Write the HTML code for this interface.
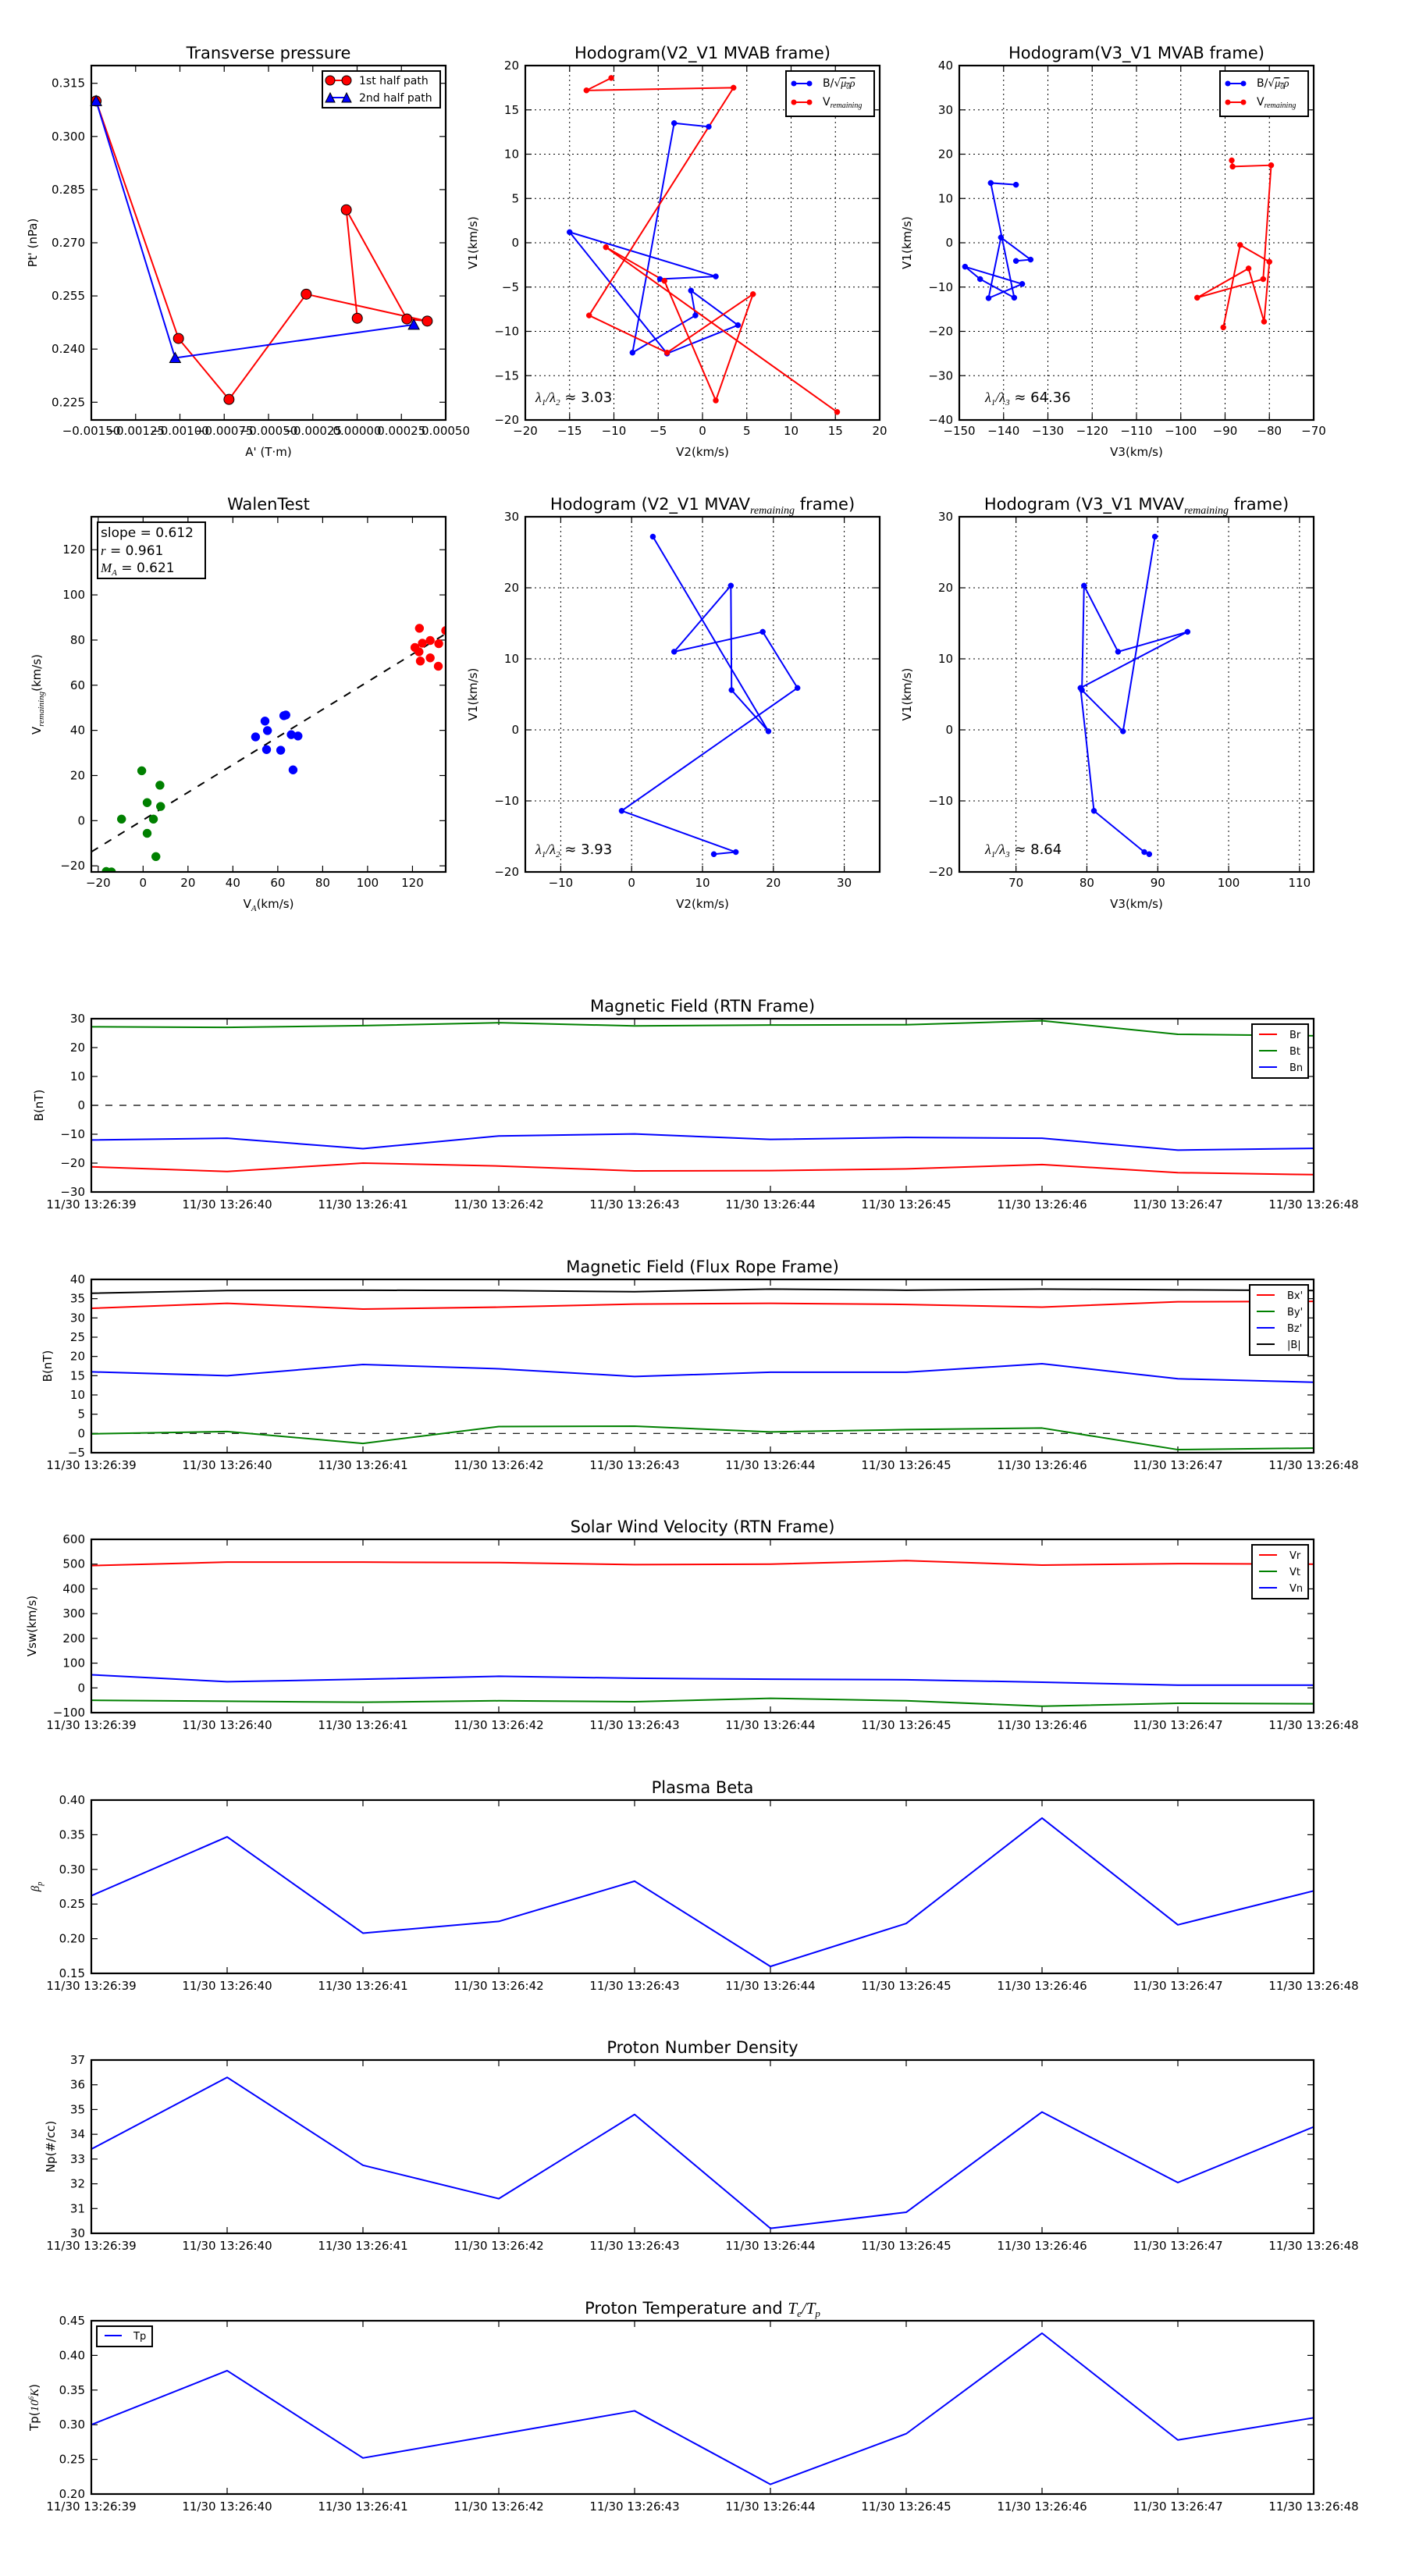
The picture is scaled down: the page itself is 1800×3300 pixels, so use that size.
<!DOCTYPE html>
<html><head><meta charset="utf-8">
<style>
html,body{margin:0;padding:0;background:#fff;}
svg{display:block;font-family:"DejaVu Sans","Liberation Sans",sans-serif;}
.m{font-family:"Liberation Serif","DejaVu Serif",serif;font-style:italic;}
</style></head>
<body>
<svg id="fig" xmlns="http://www.w3.org/2000/svg" width="1800" height="3300" viewBox="0 0 1800 3300">
<rect x="0" y="0" width="1800" height="3300" fill="#fff"/>
</svg>
<script>
// ---------------- DATA ----------------
const tpA1=[-0.001473,-0.001008,-0.000723,-0.000287,0.000396,0.000281,-0.000061,0.000001];
const tpP1=[0.3100,0.2430,0.2258,0.2555,0.2479,0.2485,0.2793,0.2487];
const tpA2=[-0.001473,-0.001027,0.000320];
const tpP2=[0.3100,0.2375,0.2469];
const tpXTicks=[-0.0015,-0.00125,-0.001,-0.00075,-0.0005,-0.00025,0,0.00025,0.0005];
const tpYTicks=[0.225,0.240,0.255,0.270,0.285,0.300,0.315];

const h2BV2=[0.7,-3.2,-7.9,-0.8,-1.3,4.0,-4.0,-15.0,1.5,-4.8];
const h2BV1=[13.1,13.5,-12.4,-8.2,-5.4,-9.3,-12.5,1.2,-3.8,-4.1];
const h2VV2=[-10.3,-13.1,3.5,-12.8,-4.0,5.7,1.5,-4.3,-10.9,15.2];
const h2VV1=[18.6,17.2,17.5,-8.2,-12.4,-5.8,-17.8,-4.3,-0.5,-19.1];
const h3BV3=[-137.2,-142.9,-137.6,-145.3,-148.7,-135.8,-143.4,-140.6,-133.9,-137.2];
const h3VV3=[-88.5,-88.3,-79.6,-81.4,-96.3,-84.7,-81.2,-80.0,-86.6,-90.4];
const h2Ratio='3.03';
const h3Ratio='64.36';

const mvV1=[27.2,-0.2,5.6,20.3,11.0,13.8,5.9,-11.4,-17.2,-17.5];
const mvV2=[3.0,19.3,14.1,14.0,6.0,18.5,23.4,-1.4,14.7,11.6];
const mvV3=[89.6,85.1,79.3,79.6,84.4,94.2,79.1,81.0,88.1,88.8];
const mv2Ratio='3.93';
const mv3Ratio='8.64';

const walenGreenX=[-16.4,-14.1,-0.6,7.5,1.8,7.8,-9.6,4.6,1.8,5.7];
const walenGreenY=[-22.5,-22.7,22.1,15.7,8.0,6.3,0.7,0.7,-5.6,-15.9];
const walenBlueX=[50.1,54.3,55.4,55.0,61.3,62.7,63.6,66.0,69.0,66.8];
const walenBlueY=[37.1,44.1,39.9,31.5,31.2,46.5,46.8,38.1,37.5,22.5];
const walenRedX=[123.1,121.1,122.9,124.4,127.9,131.7,134.8,123.5,127.9,131.5];
const walenRedY=[85.2,76.7,74.8,78.6,79.8,78.4,84.2,70.7,72.1,68.4];
const walenFit=[0.612,0.3];
const walenStats=['0.612','0.961','0.621'];

const times=['11/30 13:26:39','11/30 13:26:40','11/30 13:26:41','11/30 13:26:42','11/30 13:26:43','11/30 13:26:44','11/30 13:26:45','11/30 13:26:46','11/30 13:26:47','11/30 13:26:48'];
const Br=[-21.3,-22.9,-20.0,-21.0,-22.7,-22.6,-22.0,-20.5,-23.3,-24.0];
const Bt=[27.2,27.0,27.6,28.6,27.5,27.8,27.9,29.3,24.6,24.1];
const Bn=[-12.0,-11.4,-15.0,-10.6,-9.9,-11.8,-11.1,-11.4,-15.5,-14.9];
const Bx=[32.5,33.8,32.3,32.8,33.6,33.8,33.5,32.8,34.2,34.3];
const By=[-0.1,0.5,-2.6,1.8,1.9,0.4,1.0,1.4,-4.2,-3.8];
const Bz=[16.0,15.0,17.9,16.8,14.8,15.9,15.9,18.1,14.2,13.3];
const Bmag=[36.4,37.1,37.2,37.1,36.8,37.5,37.2,37.5,37.3,37.1];
const Vr=[494,508,508,506,498,500,514,496,502,500];
const Vt=[-50,-54,-58,-52,-56,-42,-52,-74,-62,-64];
const Vn=[53,25,35,47,39,35,33,23,11,11];
const beta=[0.262,0.347,0.208,0.225,0.283,0.160,0.222,0.374,0.220,0.269];
const Np=[33.4,36.3,32.75,31.4,34.8,30.2,30.85,34.9,32.05,34.3];
const Tp=[0.300,0.378,0.252,0.286,0.320,0.214,0.287,0.432,0.278,0.310];

// ---------------- HELPERS ----------------
const NS='http://www.w3.org/2000/svg';
const svg=document.getElementById('fig');
function mk(tag,attrs,parent){const e=document.createElementNS(NS,tag);for(const k in attrs)e.setAttribute(k,attrs[k]);(parent||svg).appendChild(e);return e;}
function txt(str,attrs,parent){const e=mk('text',attrs,parent);e.innerHTML=str;return e;}
function mfmt(s){return String(s).replace('-','\u2212');}
const RED='#ff0000',GREEN='#008000',BLUE='#0000ff';

function makeAxes(o){
  const g=mk('g',{});
  
  
  const sx=v=>o.left+(v-o.xmin)/(o.xmax-o.xmin)*o.w;
  const sy=v=>o.top+o.h-(v-o.ymin)/(o.ymax-o.ymin)*o.h;
  const B=o.top+o.h,R=o.left+o.w;
  if(o.grid){
    o.xticks.forEach(v=>{const l=mk('line',{x1:sx(v),x2:sx(v),y1:o.top,y2:B,stroke:'#000','stroke-width':1,'stroke-dasharray':'2,4'},g);
      
      });
    o.yticks.forEach(v=>{const l=mk('line',{x1:o.left,x2:R,y1:sy(v),y2:sy(v),stroke:'#000','stroke-width':1,'stroke-dasharray':'2,4'},g);
      
      });
  }
  o.xticks.forEach((v,i)=>{
    const x=sx(v);
    mk('line',{x1:x,x2:x,y1:B,y2:B-8,stroke:'#000','stroke-width':1.2},g);
    mk('line',{x1:x,x2:x,y1:o.top,y2:o.top+8,stroke:'#000','stroke-width':1.2},g);
    const t=txt(o.xlabels[i],{x:x,y:B+(o.xlabOff||19),'text-anchor':'middle','font-size':15},g);
    
    
  });
  o.yticks.forEach((v,i)=>{
    const y=sy(v);
    mk('line',{x1:o.left,x2:o.left+8,y1:y,y2:y,stroke:'#000','stroke-width':1.2},g);
    mk('line',{x1:R,x2:R-8,y1:y,y2:y,stroke:'#000','stroke-width':1.2},g);
    const t=txt(o.ylabels[i],{x:o.left-8,y:y+5,'text-anchor':'end','font-size':15},g);
    
    
  });
  const tt=txt(o.title,{x:o.left+o.w/2,y:o.top-9,'text-anchor':'middle','font-size':21},g);
  
  
  if(o.xlabel){const xl=txt(o.xlabel,{x:o.left+o.w/2,y:B+46,'text-anchor':'middle','font-size':15},g);
    
    }
  if(o.ylabel){const yx=o.ylx,yy=o.top+o.h/2;
    const yl=txt(o.ylabel,{x:yx,y:yy,'text-anchor':'middle','font-size':15,transform:'rotate(-90 '+yx+' '+yy+')'},g);
    
    }
  const plot=mk('g',{},g);
  
  
  return {sx,sy,g,plot,finish(){
    const f=mk('rect',{x:o.left,y:o.top,width:o.w,height:o.h,fill:'none',stroke:'#000','stroke-width':2.2},g);
    
    
  }};
}
function polyline(ax,xs,ys,color,w,name){
  const pts=xs.map((x,i)=>ax.sx(x)+','+ax.sy(ys[i])).join(' ');
  const p=mk('polyline',{points:pts,fill:'none',stroke:color,'stroke-width':w||2,'stroke-linejoin':'round'},ax.plot);
  
  
  return p;
}
function dots(ax,xs,ys,color,r,name,strokeC){
  xs.forEach((x,i)=>{
    const c=mk('circle',{cx:ax.sx(x),cy:ax.sy(ys[i]),r:r,fill:color,stroke:strokeC||color,'stroke-width':strokeC?1:0.5},ax.plot);
    
    
  });
}
function range(a,b,s){const r=[];for(let v=a;v<=b+1e-9;v+=s)r.push(Math.round(v*1e6)/1e6);return r;}
function labs(arr,d){return arr.map(v=>mfmt(d!=null?v.toFixed(d):String(v)));}

// ---------------- TRANSVERSE PRESSURE ----------------
(function(){
  const ax=makeAxes({name:'transverse-pressure-chart',left:117,top:84,w:454,h:454,xmin:-0.0015,xmax:0.0005,ymin:0.220,ymax:0.320,
    xticks:tpXTicks,xlabels:labs(tpXTicks,5),yticks:tpYTicks,ylabels:labs(tpYTicks,3),
    title:'Transverse pressure',xlabel:"A' (T\u00b7m)",ylabel:"Pt' (nPa)",ylx:47});
  polyline(ax,tpA1,tpP1,RED,2,'first-half-path-line');
  polyline(ax,tpA2,tpP2,BLUE,2,'second-half-path-line');
  dots(ax,tpA1,tpP1,RED,6.5,'first-half-point','#000');
  tpA2.forEach((a,i)=>{
    const x=ax.sx(a),y=ax.sy(tpP2[i]);
    const t=mk('polygon',{points:(x)+','+(y-7)+' '+(x-7)+','+(y+6)+' '+(x+7)+','+(y+6),fill:BLUE,stroke:'#000','stroke-width':1},ax.plot);
    
    
  });
  ax.finish();
  const lg=mk('g',{});
  
  
  mk('rect',{x:413,y:91,width:151,height:47,fill:'#fff',stroke:'#000','stroke-width':2},lg);
  mk('line',{x1:423,x2:444,y1:103,y2:103,stroke:RED,'stroke-width':2},lg);
  mk('circle',{cx:423,cy:103,r:6,fill:RED,stroke:'#000','stroke-width':1},lg);
  mk('circle',{cx:444,cy:103,r:6,fill:RED,stroke:'#000','stroke-width':1},lg);
  const e1=txt('1st half path',{x:460,y:108,'font-size':14},lg);
  
  
  mk('line',{x1:423,x2:444,y1:125,y2:125,stroke:BLUE,'stroke-width':2},lg);
  mk('polygon',{points:'423,119 417,131 429,131',fill:BLUE,stroke:'#000','stroke-width':1},lg);
  mk('polygon',{points:'444,119 438,131 450,131',fill:BLUE,stroke:'#000','stroke-width':1},lg);
  const e2=txt('2nd half path',{x:460,y:130,'font-size':14},lg);
  
  
})();

// ---------------- HODOGRAM LEGEND ----------------
function hodoLegend(x,y){
  const lg=mk('g',{});
  
  
  mk('rect',{x:x,y:y,width:113,height:58,fill:'#fff',stroke:'#000','stroke-width':2},lg);
  mk('line',{x1:x+10,x2:x+30,y1:y+16,y2:y+16,stroke:BLUE,'stroke-width':2},lg);
  mk('circle',{cx:x+10,cy:y+16,r:3.5,fill:BLUE},lg);
  mk('circle',{cx:x+30,cy:y+16,r:3.5,fill:BLUE},lg);
  const a=txt('B/\u221a<tspan class="m" text-decoration="overline">\u03bc<tspan font-size="9" dy="3">0</tspan><tspan dy="-3">\u03c1</tspan></tspan>',{x:x+47,y:y+20,'font-size':14},lg);
  
  
  mk('line',{x1:x+10,x2:x+30,y1:y+40,y2:y+40,stroke:RED,'stroke-width':2},lg);
  mk('circle',{cx:x+10,cy:y+40,r:3.5,fill:RED},lg);
  mk('circle',{cx:x+30,cy:y+40,r:3.5,fill:RED},lg);
  const b=txt('V<tspan class="m" font-size="10" dy="3">remaining</tspan>',{x:x+47,y:y+44,'font-size':14},lg);
  
  
}
function ratioText(ax,x,y,sub,val){
  const t=txt('<tspan class="m">\u03bb<tspan font-size="11" dy="4">1</tspan><tspan dy="-4">/\u03bb</tspan><tspan font-size="11" dy="4">'+sub+'</tspan></tspan><tspan dy="-4"> \u2248 '+val+'</tspan>',{x:x,y:y,'font-size':18},ax.g);
  
  
}

// ---------------- HODOGRAM V2_V1 MVAB ----------------
(function(){
  const xt=range(-20,20,5),yt=range(-20,20,5);
  const ax=makeAxes({name:'hodogram-v2-v1-mvab',left:673,top:84,w:454,h:454,xmin:-20,xmax:20,ymin:-20,ymax:20,grid:true,
    xticks:xt,xlabels:labs(xt),yticks:yt,ylabels:labs(yt),title:'Hodogram(V2_V1 MVAB frame)',xlabel:'V2(km/s)',ylabel:'V1(km/s)',ylx:611});
  polyline(ax,h2BV2,h2BV1,BLUE,2,'b-alfven-hodogram-line');
  polyline(ax,h2VV2,h2VV1,RED,2,'v-remaining-hodogram-line');
  dots(ax,h2BV2,h2BV1,BLUE,3.5,'b-alfven-point');
  dots(ax,h2VV2,h2VV1,RED,3.5,'v-remaining-point');
  ratioText(ax,686,515,'2',h2Ratio);
  ax.finish();
  hodoLegend(1007,91);
})();

// ---------------- HODOGRAM V3_V1 MVAB ----------------
(function(){
  const xt=range(-150,-70,10),yt=range(-40,40,10);
  const ax=makeAxes({name:'hodogram-v3-v1-mvab',left:1229,top:84,w:454,h:454,xmin:-150,xmax:-70,ymin:-40,ymax:40,grid:true,
    xticks:xt,xlabels:labs(xt),yticks:yt,ylabels:labs(yt),title:'Hodogram(V3_V1 MVAB frame)',xlabel:'V3(km/s)',ylabel:'V1(km/s)',ylx:1167});
  polyline(ax,h3BV3,h2BV1,BLUE,2,'b-alfven-hodogram-line');
  polyline(ax,h3VV3,h2VV1,RED,2,'v-remaining-hodogram-line');
  dots(ax,h3BV3,h2BV1,BLUE,3.5,'b-alfven-point');
  dots(ax,h3VV3,h2VV1,RED,3.5,'v-remaining-point');
  ratioText(ax,1262,515,'3',h3Ratio);
  ax.finish();
  hodoLegend(1563,91);
})();

// ---------------- WALEN TEST ----------------
(function(){
  const xt=range(-20,120,20),yt=range(-20,120,20);
  const ax=makeAxes({name:'walen-test-chart',left:117,top:662,w:454,h:455,xmin:-23.06,xmax:134.8,ymin:-22.7,ymax:134.6,
    xticks:xt,xlabels:labs(xt),yticks:yt,ylabels:labs(yt),title:'WalenTest',
    xlabel:'V<tspan class="m" font-size="11" dy="4">A</tspan><tspan dy="-4">(km/s)</tspan>',
    ylabel:'V<tspan class="m" font-size="11" dy="4">remaining</tspan><tspan dy="-4">(km/s)</tspan>',ylx:52});
  const x0=-23.06,x1=134.8;
  const fl=mk('line',{x1:ax.sx(x0),y1:ax.sy(walenFit[0]*x0+walenFit[1]),x2:ax.sx(x1),y2:ax.sy(walenFit[0]*x1+walenFit[1]),stroke:'#000','stroke-width':2,'stroke-dasharray':'10,10'},ax.plot);
  
  
  const cp=mk('clipPath',{id:'wclip'},svg);
  mk('rect',{x:117,y:662,width:454,height:455},cp);
  ax.plot.setAttribute('clip-path','url(#wclip)');
  dots(ax,walenGreenX,walenGreenY,GREEN,5.5,'walen-point-green');
  dots(ax,walenBlueX,walenBlueY,BLUE,5.5,'walen-point-blue');
  dots(ax,walenRedX,walenRedY,RED,5.5,'walen-point-red');
  ax.finish();
  const bx=mk('g',{});
  
  
  mk('rect',{x:125,y:669,width:138,height:72,fill:'#fff',stroke:'#000','stroke-width':2},bx);
  txt('slope = '+walenStats[0],{x:129,y:688,'font-size':17},bx);
  txt('<tspan class="m">r</tspan> = '+walenStats[1],{x:129,y:711,'font-size':17},bx);
  txt('<tspan class="m">M<tspan font-size="11" dy="4">A</tspan></tspan><tspan dy="-4"> = '+walenStats[2]+'</tspan>',{x:129,y:733,'font-size':17},bx);
})();

// ---------------- HODOGRAM MVAV ----------------
(function(){
  const xt=range(-10,30,10),yt=range(-20,30,10);
  const ax=makeAxes({name:'hodogram-v2-v1-mvav',left:673,top:662,w:454,h:455,xmin:-15,xmax:35,ymin:-20,ymax:30,grid:true,
    xticks:xt,xlabels:labs(xt),yticks:yt,ylabels:labs(yt),
    title:'Hodogram (V2_V1 MVAV<tspan class="m" font-size="14" dy="5">remaining</tspan><tspan dy="-5"> frame)</tspan>',
    xlabel:'V2(km/s)',ylabel:'V1(km/s)',ylx:611});
  polyline(ax,mvV2,mvV1,BLUE,2,'mvav-hodogram-line');
  dots(ax,mvV2,mvV1,BLUE,3.5,'mvav-point');
  ratioText(ax,686,1094,'2',mv2Ratio);
  ax.finish();
})();
(function(){
  const xt=range(70,110,10),yt=range(-20,30,10);
  const ax=makeAxes({name:'hodogram-v3-v1-mvav',left:1229,top:662,w:454,h:455,xmin:62,xmax:112,ymin:-20,ymax:30,grid:true,
    xticks:xt,xlabels:labs(xt),yticks:yt,ylabels:labs(yt),
    title:'Hodogram (V3_V1 MVAV<tspan class="m" font-size="14" dy="5">remaining</tspan><tspan dy="-5"> frame)</tspan>',
    xlabel:'V3(km/s)',ylabel:'V1(km/s)',ylx:1167});
  polyline(ax,mvV3,mvV1,BLUE,2,'mvav-hodogram-line');
  dots(ax,mvV3,mvV1,BLUE,3.5,'mvav-point');
  ratioText(ax,1262,1094,'3',mv3Ratio);
  ax.finish();
})();

// ---------------- TIME SERIES ----------------
const idx=times.map((t,i)=>i);
function tsLegend(x,y,w,entries){
  const lg=mk('g',{});
  
  
  const h=entries.length*21+6;
  mk('rect',{x:x,y:y,width:w,height:h,fill:'#fff',stroke:'#000','stroke-width':2},lg);
  entries.forEach((e,i)=>{
    const yy=y+13+i*21;
    mk('line',{x1:x+9,x2:x+32,y1:yy,y2:yy,stroke:e[0],'stroke-width':2},lg);
    const t=txt(e[1],{x:x+48,y:yy+5,'font-size':13},lg);
    
    
  });
}
function tsAxes(name,top,ymin,ymax,yt,dec,title,ylabel,ylx){
  return makeAxes({name:name,left:117,top:top,w:1566,h:222,xmin:0,xmax:9,ymin:ymin,ymax:ymax,
    xticks:idx,xlabels:times,yticks:yt,ylabels:labs(yt,dec),title:title,ylabel:ylabel,ylx:ylx,xlabOff:21});
}
function zeroLine(ax){
  const l=mk('line',{x1:117,x2:1683,y1:ax.sy(0),y2:ax.sy(0),stroke:'#000','stroke-width':1.2,'stroke-dasharray':'9,9'},ax.plot);
  
  
}
(function(){
  const ax=tsAxes('magnetic-field-rtn-chart',1305,-30,30,range(-30,30,10),null,'Magnetic Field (RTN Frame)','B(nT)',55);
  zeroLine(ax);
  polyline(ax,idx,Br,RED,2,'br-line');
  polyline(ax,idx,Bt,GREEN,2,'bt-line');
  polyline(ax,idx,Bn,BLUE,2,'bn-line');
  ax.finish();
  tsLegend(1604,1312,72,[[RED,'Br'],[GREEN,'Bt'],[BLUE,'Bn']]);
})();
(function(){
  const ax=tsAxes('magnetic-field-flux-rope-chart',1639,-5,40,range(-5,40,5),null,'Magnetic Field (Flux Rope Frame)','B(nT)',66);
  zeroLine(ax);
  polyline(ax,idx,Bx,RED,2,'bx-line');
  polyline(ax,idx,By,GREEN,2,'by-line');
  polyline(ax,idx,Bz,BLUE,2,'bz-line');
  polyline(ax,idx,Bmag,'#000',2,'bmag-line');
  ax.finish();
  tsLegend(1601,1646,75,[[RED,"Bx'"],[GREEN,"By'"],[BLUE,"Bz'"],['#000','|B|']]);
})();
(function(){
  const ax=tsAxes('solar-wind-velocity-chart',1972,-100,600,range(-100,600,100),null,'Solar Wind Velocity (RTN Frame)','Vsw(km/s)',46);
  polyline(ax,idx,Vr,RED,2,'vr-line');
  polyline(ax,idx,Vt,GREEN,2,'vt-line');
  polyline(ax,idx,Vn,BLUE,2,'vn-line');
  ax.finish();
  tsLegend(1604,1979,72,[[RED,'Vr'],[GREEN,'Vt'],[BLUE,'Vn']]);
})();
(function(){
  const ax=tsAxes('plasma-beta-chart',2306,0.15,0.40,range(0.15,0.40,0.05),2,'Plasma Beta','<tspan class="m">\u03b2<tspan font-size="10" dy="4">p</tspan></tspan>',50);
  polyline(ax,idx,beta,BLUE,2,'beta-line');
  ax.finish();
})();
(function(){
  const ax=tsAxes('proton-density-chart',2639,30,37,range(30,37,1),null,'Proton Number Density','Np(#/cc)',70);
  polyline(ax,idx,Np,BLUE,2,'np-line');
  ax.finish();
})();
(function(){
  const ax=tsAxes('proton-temperature-chart',2973,0.20,0.45,range(0.20,0.45,0.05),2,
    'Proton Temperature and <tspan class="m">T<tspan font-size="13" dy="4">e</tspan><tspan dy="-4">/T</tspan><tspan font-size="13" dy="4">p</tspan></tspan>',
    'Tp(<tspan class="m" font-style="normal">10<tspan font-size="9" dy="-6">6</tspan><tspan dy="6">K</tspan></tspan>)',49);
  polyline(ax,idx,Tp,BLUE,2,'tp-line');
  ax.finish();
  const lg=mk('g',{});
  
  
  mk('rect',{x:124,y:2980,width:71,height:26,fill:'#fff',stroke:'#000','stroke-width':2},lg);
  mk('line',{x1:134,x2:156,y1:2992,y2:2992,stroke:BLUE,'stroke-width':2},lg);
  const t=txt('Tp',{x:171,y:2997,'font-size':13},lg);
  
  
})();
</script>
</body></html>
